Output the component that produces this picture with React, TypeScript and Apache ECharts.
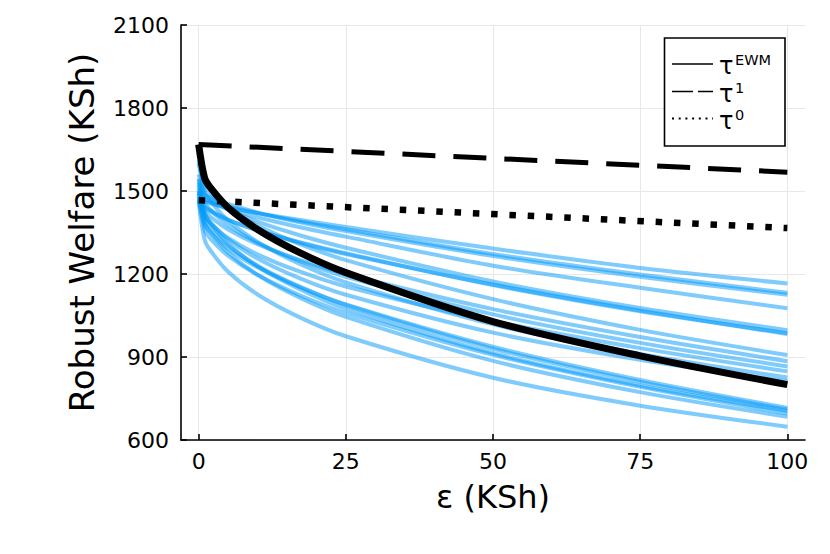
import React, { useEffect, useRef } from "react";
import * as echarts from "echarts";

// epsilon grid (KSh)
const eps = [0, 1, 2, 5, 10, 17, 25, 50, 75, 100];

// tau^EWM robust welfare
const ewm = [1668, 1548, 1512, 1440, 1361, 1279, 1205, 1028, 904, 800];
// tau^1 and tau^0 (straight lines)
const tau1X = [0, 100];
const tau1 = [1668, 1568];
const tau0X = [0, 100];
const tau0 = [1467, 1366];

// individual (blue) robust-welfare curves
const b01 = [1480, 1462, 1455, 1440, 1420, 1396, 1370, 1292, 1222, 1166];
const b02 = [1500, 1470, 1462, 1444, 1420, 1391, 1362, 1272, 1198, 1132];
const b03 = [1545, 1490, 1478, 1453, 1422, 1388, 1355, 1265, 1190, 1125];
const b04 = [1520, 1470, 1459, 1435, 1405, 1370, 1335, 1230, 1150, 1076];
const b05 = [1560, 1490, 1472, 1434, 1389, 1341, 1295, 1173, 1077, 997];
const b06 = [1470, 1440, 1426, 1395, 1358, 1316, 1275, 1160, 1065, 986];
const b07 = [1600, 1520, 1492, 1437, 1375, 1310, 1250, 1109, 998, 907];
const b08 = [1475, 1430, 1407, 1361, 1308, 1252, 1200, 1073, 972, 885];
const b09 = [1530, 1460, 1432, 1376, 1313, 1248, 1190, 1054, 951, 866];
const b10 = [1470, 1410, 1383, 1330, 1271, 1210, 1155, 1030, 932, 848];
const b11 = [1610, 1500, 1464, 1393, 1316, 1238, 1170, 1018, 911, 826];
const b12 = [1490, 1420, 1388, 1325, 1256, 1186, 1125, 988, 890, 812];
const b13 = [1465, 1380, 1350, 1291, 1224, 1154, 1090, 937, 817, 716];
const b14 = [1540, 1420, 1382, 1309, 1228, 1147, 1075, 914, 797, 705];
const b15 = [1480, 1360, 1328, 1266, 1197, 1125, 1060, 908, 792, 696];
const b16 = [1510, 1390, 1352, 1278, 1197, 1116, 1045, 886, 773, 684];
const b17 = [1462, 1325, 1285, 1208, 1126, 1045, 975, 825, 724, 648];
const b18 = [1495, 1445, 1430, 1397, 1358, 1314, 1272, 1162, 1068, 983];
const b19 = [1500, 1400, 1367, 1303, 1230, 1156, 1088, 930, 810, 710];
const blueCurves = [b01, b02, b03, b04, b05, b06, b07, b08, b09, b10, b11, b12, b13, b14, b15, b16, b17, b18, b19];

const xTicks = [0, 25, 50, 75, 100];
const legendLabels = ["EWM", "1", "0"];

const FONT = "DejaVu Sans";

export default function App() {
  const ref = useRef<HTMLDivElement>(null);
  useEffect(() => {
    if (!ref.current) return;
    const chart = echarts.init(ref.current, null, { renderer: "svg" });
    const pairs = (xs: number[], ys: number[]) => xs.map((x, i) => [x, ys[i]]);

    const blueSeries = blueCurves.map((c, i) => ({
      type: "line",
      name: "b" + i,
      data: pairs(eps, c),
      showSymbol: false,
      smooth: 0.3,
      lineStyle: { color: "rgba(0,154,250,0.5)", width: 4 },
      z: 2,
      silent: true,
    }));

    const legendX0 = 672;
    const legendX1 = 713;
    const rowY = [64, 91.5, 118.5];
    const dashes: any[] = [null, [21, 5], [2, 4.7]];

    const legendEls: any[] = [
      {
        type: "rect",
        shape: { x: 664.5, y: 38, width: 120.5, height: 108 },
        style: { fill: "#fff", stroke: "#000", lineWidth: 1.6 },
        z: 100,
      },
    ];
    legendLabels.forEach((lab, i) => {
      legendEls.push({
        type: "line",
        shape: { x1: legendX0, y1: rowY[i], x2: legendX1, y2: rowY[i] },
        style: { stroke: "#000", lineWidth: i === 2 ? 2 : 1.6, lineDash: dashes[i] || undefined },
        z: 101,
      });
      legendEls.push({
        type: "text",
        x: 719,
        y: rowY[i] + 2,
        style: { text: "τ", font: `24px '${FONT}'`, fill: "#000", verticalAlign: "middle", align: "left" },
        z: 101,
      });
      legendEls.push({
        type: "text",
        x: 735,
        y: rowY[i] - 4,
        style: { text: lab, font: `14.5px '${FONT}'`, fill: "#000", verticalAlign: "middle", align: "left" },
        z: 101,
      });
    });

    const option: any = {
      animation: false,
      backgroundColor: "#fff",
      grid: { left: 181, right: 25, top: 25, bottom: 114 },
      xAxis: {
        type: "value",
        min: -3,
        max: 103,
        name: "ε (KSh)",
        nameLocation: "middle",
        nameGap: 41,
        nameTextStyle: { fontFamily: FONT, fontSize: 32, color: "#000" },
        axisLine: { show: true, onZero: false, lineStyle: { color: "#000", width: 1.6 } },
        axisTick: { show: true, inside: true, length: 6, customValues: xTicks, lineStyle: { color: "#000", width: 1.6 } },
        axisLabel: { customValues: xTicks, fontFamily: FONT, fontSize: 22, color: "#000", margin: 10, formatter: (v: number) => String(v) },
        splitLine: { show: true, lineStyle: { color: "#e8e8e8", width: 1 } },
      },
      yAxis: {
        type: "value",
        min: 600,
        max: 2100,
        interval: 300,
        name: "Robust Welfare (KSh)",
        nameLocation: "middle",
        nameGap: 82,
        nameTextStyle: { fontFamily: FONT, fontSize: 34, color: "#000" },
        axisLine: { show: true, onZero: false, lineStyle: { color: "#000", width: 1.6 } },
        axisTick: { show: true, inside: true, length: 6, lineStyle: { color: "#000", width: 1.6 } },
        axisLabel: { fontFamily: FONT, fontSize: 22, color: "#000", margin: 12, formatter: (v: number) => String(v) },
        splitLine: { show: true, lineStyle: { color: "#e8e8e8", width: 1 } },
      },
      series: [
        ...blueSeries,
        {
          type: "line",
          name: "τ0",
          data: pairs(tau0X, tau0),
          showSymbol: false,
          lineStyle: { color: "#000", width: 6.5, type: [6.5, 11.8], cap: "butt" },
          z: 3,
          silent: true,
        },
        {
          type: "line",
          name: "τ1",
          data: pairs(tau1X, tau1),
          showSymbol: false,
          lineStyle: { color: "#000", width: 5, type: [33, 18], cap: "butt" },
          z: 3,
          silent: true,
        },
        {
          type: "line",
          name: "τEWM",
          data: pairs(eps, ewm),
          showSymbol: false,
          smooth: 0.3,
          lineStyle: { color: "#000", width: 7 },
          z: 4,
          silent: true,
        },
      ],
      graphic: legendEls,
    };
    chart.setOption(option);
    return () => chart.dispose();
  }, []);
  return (
    <div
      ref={ref}
      style={{ position: "absolute", left: 0, top: 0, width: 830, height: 554, background: "#fff" }}
    />
  );
}
